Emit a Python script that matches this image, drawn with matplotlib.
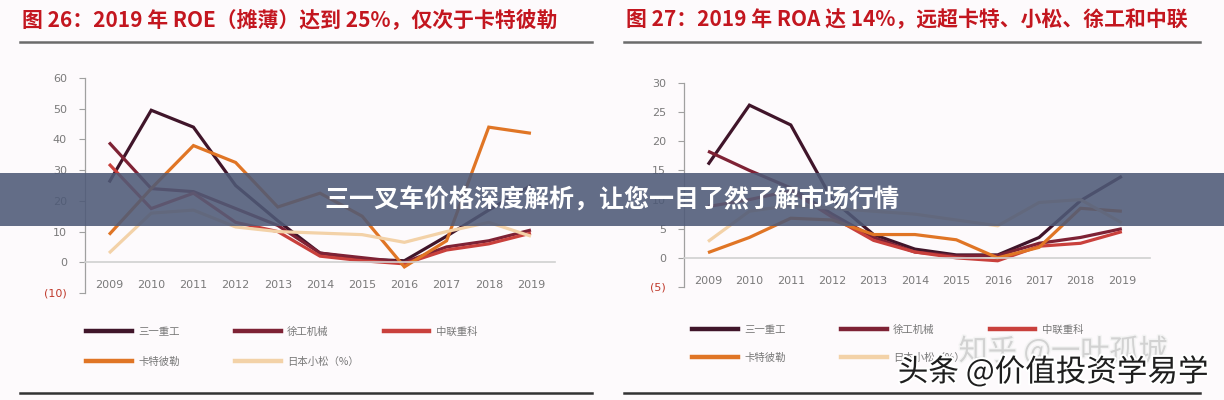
import matplotlib
matplotlib.use("Agg")
import matplotlib.pyplot as plt
from matplotlib.lines import Line2D
from matplotlib.patches import Rectangle
import matplotlib.patheffects as pe
from matplotlib.ticker import FuncFormatter, FixedLocator

plt.rcParams['font.family'] = ['Noto Sans CJK SC', 'DejaVu Sans']

# ---------------- data ----------------
years = ['2009', '2010', '2011', '2012', '2013', '2014', '2015', '2016', '2017', '2018', '2019']
series_names = ['三一重工', '徐工机械', '中联重科', '卡特彼勒', '日本小松（%）']

roe_sany = [26, 49.5, 44, 25, 13.5, 3, 1, 0.5, 8.5, 17, 25]
roe_xcmg = [39, 24, 23, 17.5, 12, 3, 1.5, 0, 5, 7, 10.5]
roe_zoomlion = [32, 17.5, 22.5, 13, 10, 2, 0.5, -0.5, 4, 6, 9.5]
roe_cat = [9, 24, 38, 32.5, 18, 22.5, 15, -1.5, 7, 44, 42]
roe_komatsu = [3, 16, 17, 11.5, 10, 9.5, 9, 6.5, 10, 13, 8.5]

roa_sany = [16, 26.2, 22.8, 10, 4, 1.5, 0.5, 0.5, 3.5, 9.8, 14]
roa_xcmg = [18.3, 15, 12, 7.5, 3.5, 1, 0.3, 0.4, 2.5, 3.5, 5]
roa_zoomlion = [8.8, 10, 11.5, 7, 3, 1, 0, -0.5, 2, 2.5, 4.5]
roa_cat = [0.9, 3.5, 6.8, 6.5, 4, 4, 3.1, 0, 1.8, 8.5, 8]
roa_komatsu = [2.8, 8, 9, 8.5, 8, 7.5, 6.5, 5.5, 9.5, 10, 6]

roe_ticks = [-10, 0, 10, 20, 30, 40, 50, 60]
roa_ticks = [-5, 0, 5, 10, 15, 20, 25, 30]

title_left = '图 26：2019 年 ROE（摊薄）达到 25%，仅次于卡特彼勒'
title_right = '图 27：2019 年 ROA 达 14%，远超卡特、小松、徐工和中联'
banner_text = '三一叉车价格深度解析，让您一目了然了解市场行情'
wm_main = '头条 @价值投资学易学'
wm_sub = '知乎 @一叶孤城'

colors = ['#40152a', '#7e2235', '#c9403c', '#e07525', '#f3d2a8']

# ---------------- figure ----------------
W, H = 1224, 400
fig = plt.figure(figsize=(W / 100, H / 100), dpi=100)
fig.patch.set_facecolor('#fdfafc')


def fx(px):
    return px / W


def fy(py):
    return 1 - py / H


def make_axes(rect, ylim, xlim, ticks, data):
    ax = fig.add_axes(rect)
    ax.set_facecolor('none')
    x = list(range(len(years)))
    for vals, c in zip(data, colors):
        ax.plot(x, vals, color=c, lw=2.3, solid_joinstyle='miter', solid_capstyle='butt')
    ax.set_xlim(*xlim)
    ax.set_ylim(*ylim)
    for s in ['top', 'right']:
        ax.spines[s].set_visible(False)
    ax.spines['left'].set_color('#a0a0a0')
    ax.spines['left'].set_linewidth(0.9)
    ax.spines['bottom'].set_position(('data', 0))
    ax.spines['bottom'].set_color('#d0d0d0')
    ax.spines['bottom'].set_linewidth(1.2)
    ax.set_xticks(x)
    ax.set_xticklabels(years, fontsize=8, color='#7a7a7a', family='DejaVu Sans')
    ax.tick_params(axis='x', length=0, pad=13)
    ax.yaxis.set_major_locator(FixedLocator(ticks))
    ax.yaxis.set_major_formatter(FuncFormatter(lambda v, p: f'({abs(int(v))})' if v < 0 else f'{int(v)}'))
    ax.tick_params(axis='y', length=4, width=0.8, color='#a0a0a0', labelsize=8,
                   labelcolor='#7a7a7a', pad=9)
    for lab in ax.get_yticklabels():
        lab.set_family('DejaVu Sans')
    fig.canvas.draw()
    for lab, t in zip(ax.get_yticklabels(), ticks):
        if t < 0:
            lab.set_color('#c0392b')
    return ax


axL = make_axes([fx(85), fy(293), fx(555) - fx(85), fy(78) - fy(293)], (-10, 60), (-0.57, 10.57),
                roe_ticks, [roe_sany, roe_xcmg, roe_zoomlion, roe_cat, roe_komatsu])
axR = make_axes([fx(684), fy(287), fx(1150) - fx(684), fy(83) - fy(287)], (-5, 30), (-0.58, 10.68),
                roa_ticks, [roa_sany, roa_xcmg, roa_zoomlion, roa_cat, roa_komatsu])

# ---------------- legends ----------------
handles = [Line2D([], [], color=c, lw=3.2) for c in colors]
leg_kw = dict(frameon=False, fontsize=7.5, handlelength=4.4, handletextpad=0.6,
              columnspacing=5.3, labelcolor='#777777', borderaxespad=0, borderpad=0)
for x0, r1, r2 in ((88, 332, 362), (694, 330, 358)):
    fig.legend(handles[:3], series_names[:3], ncol=3, loc='center left',
               bbox_to_anchor=(fx(x0 - 2), fy(r1)), **leg_kw)
    fig.legend(handles[3:], series_names[3:], ncol=2, loc='center left',
               bbox_to_anchor=(fx(x0 - 2), fy(r2)), **leg_kw)

# ---------------- titles and rules ----------------
fig.text(fx(22), fy(20), title_left, fontsize=15, fontweight='bold', color='#c3161f',
         va='center', ha='left')
fig.text(fx(626), fy(20), title_right, fontsize=15, fontweight='bold', color='#c3161f',
         va='center', ha='left')
for (a, b) in ((20, 592), (624, 1200)):
    fig.add_artist(Line2D([fx(a), fx(b)], [fy(42), fy(42)], color='#6b6b6b', lw=1.8))
    fig.add_artist(Line2D([fx(a), fx(b)], [fy(393), fy(393)], color='#333333', lw=1.8))

# ---------------- banner overlay ----------------
fig.add_artist(Rectangle((0, fy(226)), 1, fy(173) - fy(226), transform=fig.transFigure,
                         facecolor='#4e5a77', alpha=0.88, edgecolor='none', zorder=10))
fig.text(0.5, fy(200), banner_text, fontsize=18, fontweight='bold', color='white',
         ha='center', va='center', zorder=11)

# ---------------- watermarks ----------------
fig.text(fx(1063), fy(352), wm_sub, fontsize=21, color='#d2d2d2', ha='center', va='center',
         zorder=11, path_effects=[pe.withStroke(linewidth=2, foreground='#f4f4f4')])
fig.text(fx(1053), fy(372), wm_main, fontsize=22, color='#1e1e1e', ha='center', va='center',
         zorder=12, path_effects=[pe.withStroke(linewidth=3, foreground='white')])

fig.savefig('out.png', dpi=100, facecolor=fig.get_facecolor())
